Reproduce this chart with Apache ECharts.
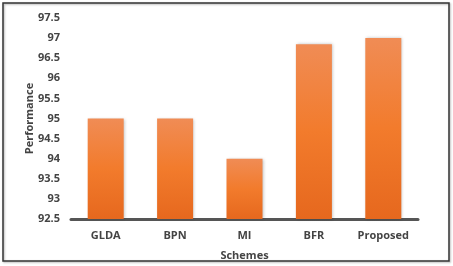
<!DOCTYPE html>
<html><head><meta charset="utf-8">
<script src="https://cdn.jsdelivr.net/npm/echarts@6/dist/echarts.min.js"></script>
<style>html,body{margin:0;padding:0;background:#fff}#c{width:453px;height:266px}</style>
</head><body><div id="c"></div>
<script>
const categories = ['GLDA', 'BPN', 'MI', 'BFR', 'Proposed'];
const performance = [95, 95, 94, 96.85, 97];
const yMin = 92.5, yMax = 97.5, yStep = 0.5;

const chart = echarts.init(document.getElementById('c'), null, {renderer: 'canvas'});
chart.setOption({
  animation: false,
  backgroundColor: '#fff',
  grid: {left: 71, right: 35, top: 18, bottom: 44},
  graphic: [
    {type: 'rect', shape: {x: 3, y: 3, width: 446, height: 258},
     style: {fill: 'none', stroke: '#333', lineWidth: 1.5,
       shadowColor: 'rgba(0,0,0,0.3)', shadowBlur: 2, shadowOffsetX: 1, shadowOffsetY: 1}, z: 0}
  ],
  xAxis: {
    type: 'category', data: categories,
    name: 'Schemes', nameLocation: 'middle', nameGap: 31, nameMoveOverlap: false,
    nameTextStyle: {fontFamily: 'Open Sans', fontWeight: 'bold', fontSize: 11, color: '#444'},
    axisLine: {lineStyle: {color: '#555', width: 3}},
    axisTick: {show: false},
    axisLabel: {fontFamily: 'Open Sans', fontWeight: 'bold', fontSize: 11, color: '#444', margin: 11}
  },
  yAxis: {
    type: 'value', min: yMin, max: yMax, interval: yStep,
    name: 'Performance', nameLocation: 'middle', nameGap: 36, nameMoveOverlap: false,
    nameTextStyle: {fontFamily: 'Open Sans', fontWeight: 'bold', fontSize: 11, color: '#444'},
    axisLine: {show: false}, axisTick: {show: false}, splitLine: {show: false},
    axisLabel: {fontFamily: 'Open Sans', fontWeight: 'bold', fontSize: 11, color: '#444', margin: 11,
      formatter: v => String(Math.round(v * 10) / 10)}
  },
  series: [{
    type: 'bar', data: performance, barWidth: 36,
    itemStyle: {
      color: new echarts.graphic.LinearGradient(0, 0, 0, 1, [
        {offset: 0, color: '#F08C55'},
        {offset: 0.5, color: '#F27B2C'},
        {offset: 1, color: '#E6681E'}
      ]),
      shadowColor: 'rgba(0,0,0,0.25)', shadowBlur: 3, shadowOffsetX: 1
    }
  }]
});
</script></body></html>
